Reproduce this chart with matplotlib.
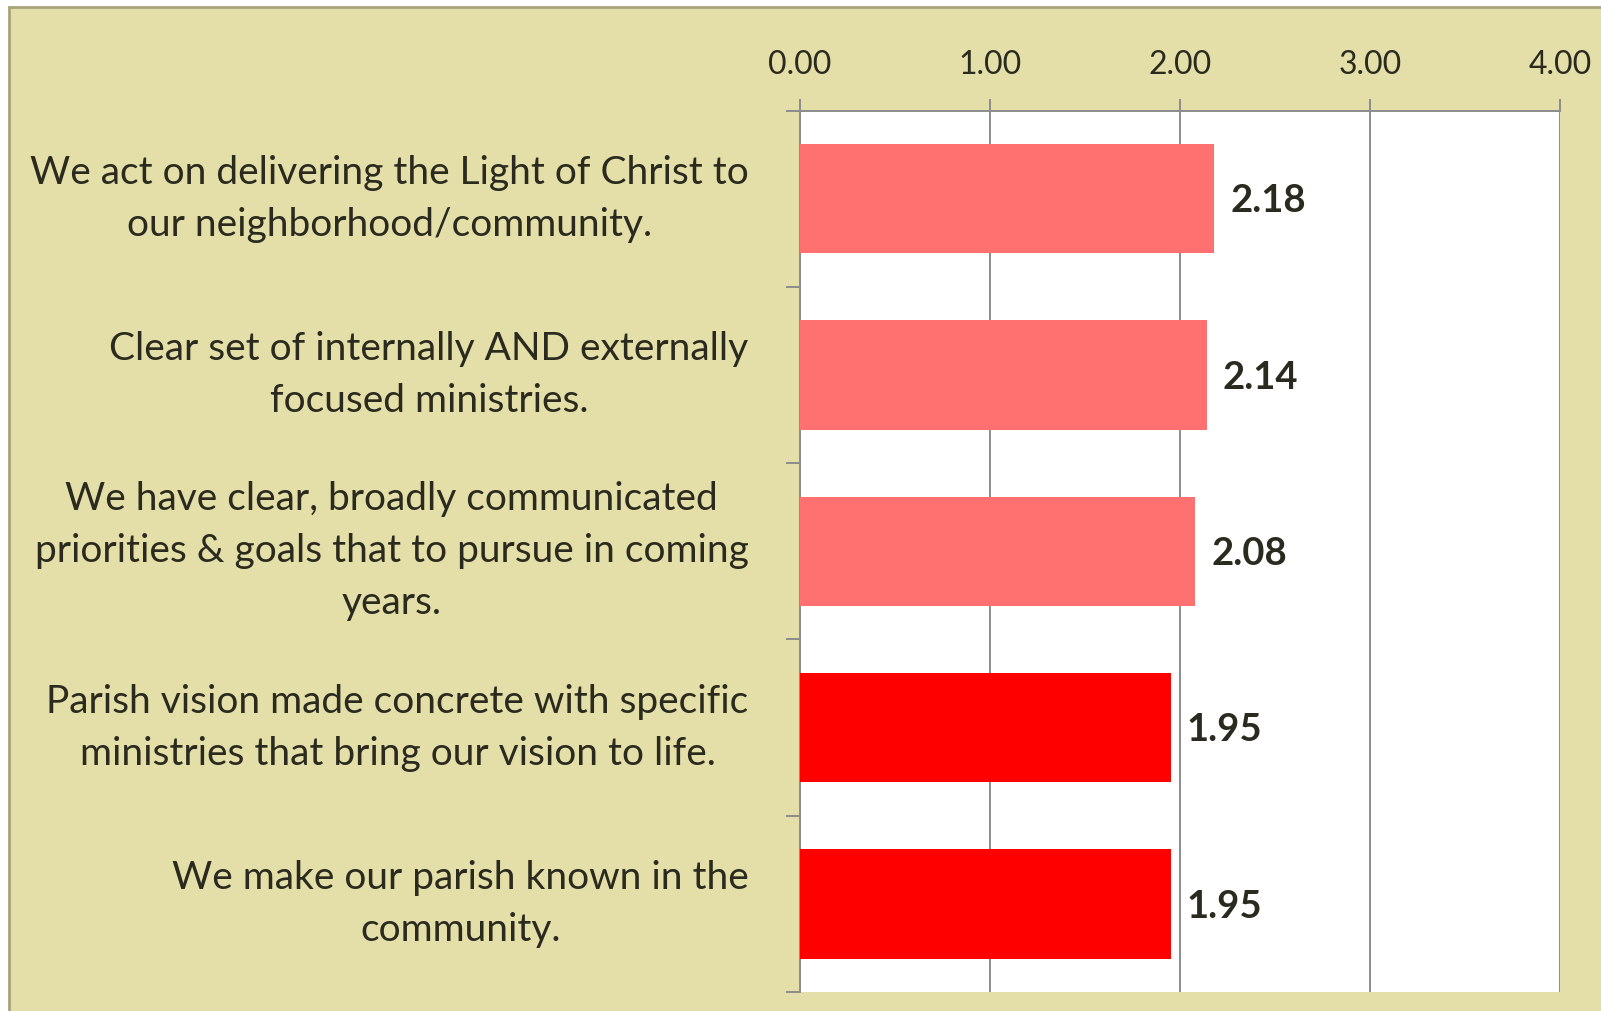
import matplotlib.pyplot as plt
from matplotlib.patches import Rectangle
from matplotlib.ticker import FixedLocator, FormatStrFormatter

# chart data
labels = [
    "We act on delivering the Light of Christ to\nour neighborhood/community.",
    "Clear set of internally AND externally\nfocused ministries.",
    "We have clear, broadly communicated\npriorities & goals that to pursue in coming\nyears.",
    "Parish vision made concrete with specific\nministries that bring our vision to life.",
    "We make our parish known in the\ncommunity.",
]
scores = [2.18, 2.14, 2.08, 1.95, 1.95]
bar_colors = ["#FF7171", "#FF7171", "#FF7171", "#FF0000", "#FF0000"]
xticks = [0, 1, 2, 3, 4]

W, H = 1601, 1011
bg = "#E4DFA8"
edge = "#A8A47A"
grey = "#8C8C8C"
txt = "#2A2A1E"
plt.rcParams['font.family'] = ['Lato', 'DejaVu Sans']

fig = plt.figure(figsize=(W / 100, H / 100), dpi=100)
fig.patch.set_facecolor("white")
# yellow panel with a thin border on top / left
fig.add_artist(Rectangle((8.5 / W, -0.05), 1.05, 1 - 6.5 / H + 0.05,
                         transform=fig.transFigure, facecolor=bg,
                         edgecolor=edge, linewidth=2, zorder=-10))

ax = fig.add_axes([800 / W, 1 - 992 / H, 760 / W, (992 - 110.7) / H])
ax.set_facecolor("white")

ypos = list(range(len(labels)))
ax.barh(ypos, scores, height=0.62, color=bar_colors, zorder=3)

for y, v in zip(ypos, scores):
    ax.text(v + 0.085, y + 0.015, f"{v:.2f}", va="center", ha="left",
            fontsize=27.5, fontweight="bold", color=txt, zorder=4)

ax.set_xlim(0, 4)
ax.set_ylim(len(labels) - 0.5, -0.5)

# x axis on top
ax.xaxis.set_ticks_position("top")
ax.xaxis.set_label_position("top")
ax.set_xticks(xticks)
ax.xaxis.set_major_formatter(FormatStrFormatter("%.2f"))
ax.tick_params(axis="x", direction="out", length=8.5, width=1.4,
               color=grey, labelsize=23, labelcolor=txt, pad=13.5)
ax.grid(axis="x", color=grey, linewidth=1.4, zorder=1)

# y labels at category centres, ticks at boundaries
ax.set_yticks(ypos)
ax.set_yticklabels(labels)
ax.tick_params(axis="y", which="major", length=0, labelsize=28,
               labelcolor=txt, pad=37)
for t in ax.get_yticklabels():
    t.set_multialignment("center")
    t.set_linespacing(1.55)
    t.set_verticalalignment("center")
ax.yaxis.set_minor_locator(FixedLocator([i - 0.5 for i in range(len(labels) + 1)]))
ax.tick_params(axis="y", which="minor", direction="out", length=10,
               width=1.4, color=grey)

for s in ["right", "bottom"]:
    ax.spines[s].set_visible(False)
for s in ["top", "left"]:
    ax.spines[s].set_color(grey)
    ax.spines[s].set_linewidth(1.4)

fig.savefig("out.png", dpi=100, facecolor=fig.get_facecolor())
